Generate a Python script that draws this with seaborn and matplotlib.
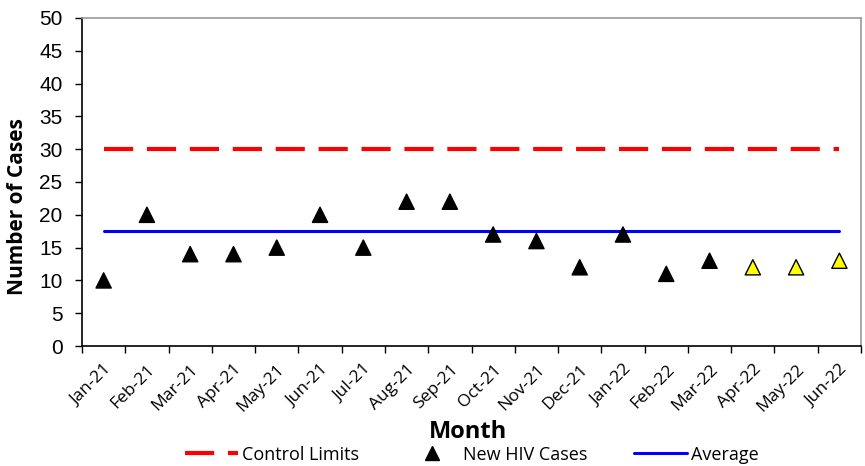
import numpy as np
import pandas as pd
import matplotlib
matplotlib.use("Agg")
import matplotlib.pyplot as plt
import seaborn as sns
from matplotlib.lines import Line2D

months = ["Jan-21", "Feb-21", "Mar-21", "Apr-21", "May-21", "Jun-21", "Jul-21",
          "Aug-21", "Sep-21", "Oct-21", "Nov-21", "Dec-21", "Jan-22", "Feb-22",
          "Mar-22", "Apr-22", "May-22", "Jun-22"]
cases = [10, 20, 14, 14, 15, 20, 15, 22, 22, 17, 16, 12, 17, 11, 13, 12, 12, 13]
status = ["final"] * 15 + ["provisional"] * 3
control_limit = 30
average = 17.5

df = pd.DataFrame({"idx": np.arange(len(months)), "month": months,
                   "cases": cases, "status": status})

sns.set_theme(style="white")
plt.rcParams["font.family"] = ["Open Sans", "DejaVu Sans"]
plt.rcParams["text.color"] = "black"
plt.rcParams["axes.labelcolor"] = "black"
plt.rcParams["xtick.color"] = "black"
plt.rcParams["ytick.color"] = "black"

fig = plt.figure(figsize=(8.65, 4.66), dpi=100)
ax = fig.add_axes([0.0948, 0.2575, 0.9006, 0.7039])

n = len(months)
line_df = pd.DataFrame({"idx": [0, n - 1]})
line_df["cl"] = control_limit
line_df["avg"] = average

sns.lineplot(data=line_df, x="idx", y="cl", ax=ax, color="#ff0000", lw=3,
             zorder=2).lines[-1].set_dashes([7, 3.3])
sns.lineplot(data=line_df, x="idx", y="avg", ax=ax, color="#0000ff", lw=2.2, zorder=2)

sns.scatterplot(data=df, x="idx", y="cases", hue="status",
                palette={"final": "black", "provisional": "#ffff00"},
                marker="^", s=120, edgecolor="black", linewidth=1.0,
                legend=False, ax=ax, zorder=3)

ax.set_xlim(-0.5, n - 0.5)
ax.set_ylim(0, 50)
ax.set_yticks(np.arange(0, 51, 5))
ax.set_yticklabels([str(v) for v in range(0, 51, 5)],
                   family=["Liberation Sans", "DejaVu Sans"], fontsize=15)
ax.set_xticks(np.arange(n))
ax.set_xticklabels(months, rotation=45, ha="right", rotation_mode="anchor",
                   fontsize=12.5)
ax.set_xticks(np.arange(-0.5, n, 1), minor=True)
ax.tick_params(axis="x", which="major", length=0, pad=11)
ax.tick_params(axis="x", which="minor", length=5, width=1, direction="out", bottom=True)
ax.tick_params(axis="y", length=5, width=1, direction="out", left=True, pad=9)

for side in ["left", "bottom"]:
    ax.spines[side].set_color("black")
    ax.spines[side].set_linewidth(1.2)
for side in ["top", "right"]:
    ax.spines[side].set_color("#9a9a9a")
    ax.spines[side].set_linewidth(1.2)

ax.set_xlabel("Month", fontsize=17, fontweight="bold")
ax.set_ylabel("Number of Cases", fontsize=15, fontweight="bold")
ax.xaxis.set_label_coords(0.495, -0.226)
ax.xaxis.label.set_va("top")
ax.yaxis.set_label_coords(-0.069, 0.424)

handles = [
    Line2D([], [], color="#ff0000", lw=3, dashes=[7, 3.3]),
    Line2D([], [], color="black", marker="^", linestyle="none", markersize=10),
    Line2D([], [], color="#0000ff", lw=2.2),
]
fig.legend(handles, ["Control Limits", "New HIV Cases", "Average"],
           loc="center", bbox_to_anchor=(0.546, 0.024), ncol=3, frameon=False,
           fontsize=13, handlelength=2.9, handletextpad=0.25, columnspacing=2.6)

fig.savefig("out.png", dpi=100)
